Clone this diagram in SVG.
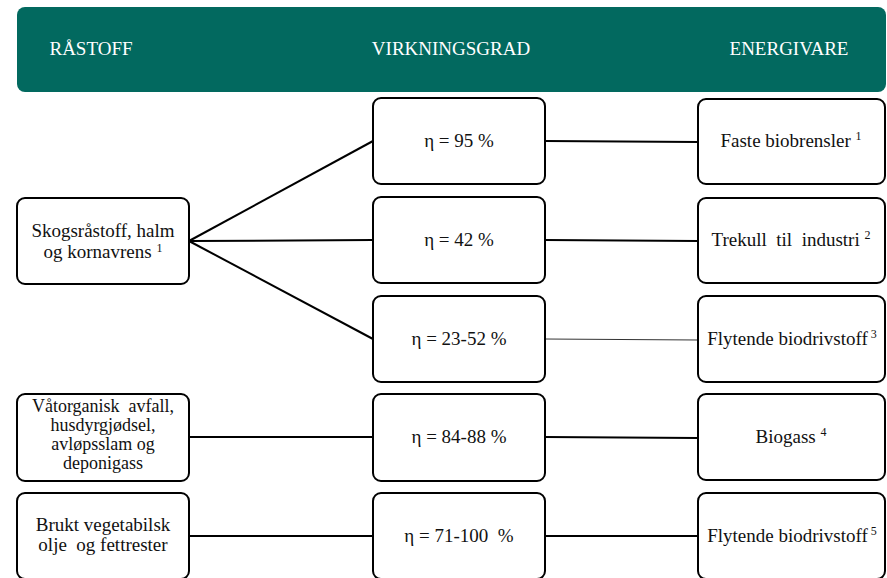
<svg xmlns="http://www.w3.org/2000/svg" width="887" height="578" viewBox="0 0 887 578">
<style>
.box{fill:#fff;stroke:#000;stroke-width:2}
.t{font-family:"Liberation Serif","Times New Roman",serif;font-size:19px;fill:#111;text-anchor:middle}
.s{font-size:18px}
.h{font-family:"Liberation Serif","Times New Roman",serif;font-size:19px;fill:#fff;text-anchor:middle}
.sup{font-size:12px}
.c{stroke:#000;stroke-width:2;fill:none}
.thin{stroke:#333;stroke-width:1;fill:none}
</style>
<rect width="887" height="578" fill="#fff"/>
<g id="header">
<rect x="17" y="7" width="869" height="85" rx="8" fill="#02695F"/>
<text class="h" x="91" y="55">RÅSTOFF</text>
<text class="h" x="451" y="55">VIRKNINGSGRAD</text>
<text class="h" x="789" y="55">ENERGIVARE</text>
</g>
<g id="connectors">
<line class="c" x1="189" y1="241" x2="373" y2="141"/>
<line class="c" x1="189" y1="241" x2="373" y2="240"/>
<line class="c" x1="189" y1="241" x2="373" y2="339"/>
<line class="c" x1="545" y1="141" x2="698" y2="142"/>
<line class="c" x1="545" y1="240" x2="698" y2="241"/>
<line class="thin" x1="545" y1="339" x2="698" y2="340"/>
<line class="c" x1="545" y1="437" x2="698" y2="438"/>
<line class="c" x1="545" y1="536" x2="698" y2="536"/>
<line class="c" x1="189" y1="437" x2="373" y2="437"/>
<line class="c" x1="189" y1="536" x2="373" y2="536"/>
</g>
<g id="src1">
<rect class="box" x="17" y="198" width="172" height="86" rx="8"/>
<text class="t" x="103" y="237">Skogsråstoff, halm</text>
<text class="t" x="103" y="258">og kornavrens <tspan class="sup" dy="-6">1</tspan></text>
</g>
<g id="src2">
<rect class="box" x="17" y="394" width="172" height="87" rx="8"/>
<text class="t s" x="103" y="412" xml:space="preserve">Våtorganisk  avfall,</text>
<text class="t s" x="103" y="431">husdyrgjødsel,</text>
<text class="t s" x="103" y="450">avløpsslam og</text>
<text class="t s" x="103" y="469">deponigass</text>
</g>
<g id="src3">
<rect class="box" x="17" y="493" width="172" height="86" rx="8"/>
<text class="t" x="103" y="531">Brukt vegetabilsk</text>
<text class="t" x="103" y="551" xml:space="preserve">olje  og fettrester</text>
</g>
<g id="eff1">
<rect class="box" x="373" y="98" width="172" height="86" rx="8"/>
<text class="t" x="459" y="147">η = 95 %</text>
</g>
<g id="eff2">
<rect class="box" x="373" y="197" width="172" height="86" rx="8"/>
<text class="t" x="459" y="246">η = 42 %</text>
</g>
<g id="eff3">
<rect class="box" x="373" y="296" width="172" height="86" rx="8"/>
<text class="t" x="459" y="345">η = 23-52 %</text>
</g>
<g id="eff4">
<rect class="box" x="373" y="394" width="172" height="87" rx="8"/>
<text class="t" x="459" y="443">η = 84-88 %</text>
</g>
<g id="eff5">
<rect class="box" x="373" y="493" width="172" height="86" rx="8"/>
<text class="t" x="459" y="542" xml:space="preserve">η = 71-100  %</text>
</g>
<g id="out1">
<rect class="box" x="698" y="99" width="187" height="85" rx="8"/>
<text class="t" x="791" y="147">Faste biobrensler <tspan class="sup" dy="-7">1</tspan></text>
</g>
<g id="out2">
<rect class="box" x="698" y="198" width="187" height="85" rx="8"/>
<text class="t" x="791" y="246" xml:space="preserve">Trekull  til  industri <tspan class="sup" dy="-7">2</tspan></text>
</g>
<g id="out3">
<rect class="box" x="698" y="296" width="187" height="86" rx="8"/>
<text class="t" x="792" y="345">Flytende biodrivstoff<tspan class="sup" dx="3" dy="-7">3</tspan></text>
</g>
<g id="out4">
<rect class="box" x="698" y="394" width="187" height="86" rx="8"/>
<text class="t" x="791" y="443">Biogass <tspan class="sup" dy="-7">4</tspan></text>
</g>
<g id="out5">
<rect class="box" x="698" y="493" width="187" height="86" rx="8"/>
<text class="t" x="792" y="542">Flytende biodrivstoff<tspan class="sup" dx="3" dy="-7">5</tspan></text>
</g>
</svg>
